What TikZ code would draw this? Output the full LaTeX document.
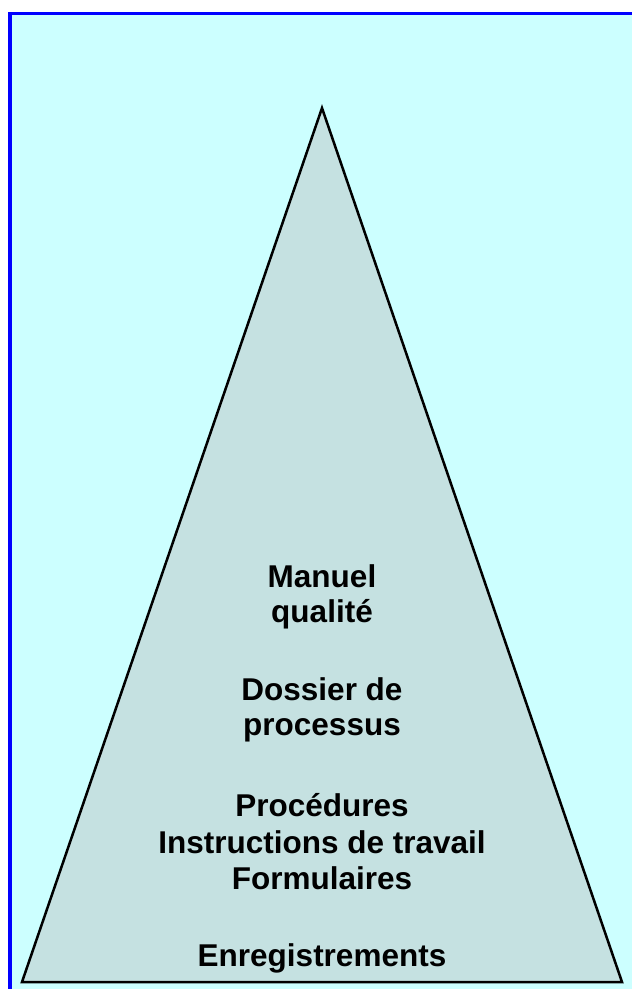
\documentclass[tikz,border=0pt]{standalone}
\usepackage{fontspec}
\setmainfont{Liberation Sans}
\definecolor{bgcyan}{RGB}{204,255,255}
\definecolor{tricol}{RGB}{197,225,225}
\definecolor{framblue}{RGB}{0,0,255}
\tikzset{
  lbl/.style={anchor=base, inner sep=0pt, font=\fontsize{31.5pt}{36pt}\selectfont\bfseries, text=black},
  pyr/.style={draw=black, line width=2.5pt, fill=tricol, line join=miter}
}
\begin{document}
\begin{tikzpicture}[x=1pt,y=-1pt]
\useasboundingbox (0,0) rectangle (632,989);
\begin{scope}
\clip (0,0) rectangle (632,989);
\fill[white] (0,0) rectangle (632,989);
\draw[framblue, line width=3.5pt, fill=bgcyan] (9.75,13.5) rectangle (660,1020);
\end{scope}
\coordinate (apex) at (322,108);
\coordinate (bl) at (22,982);
\coordinate (br) at (622,982);
\draw[pyr] (apex) -- (bl) -- (br) -- cycle;
\node[lbl] (l1) at (322,587) {Manuel};
\node[lbl] (l2) at (322,622) {qualité};
\node[lbl] (l3) at (322,700) {Dossier de};
\node[lbl] (l4) at (322,735) {processus};
\node[lbl] (l5) at (322,816) {Procédures};
\node[lbl] (l6) at (322,853) {Instructions de travail};
\node[lbl] (l7) at (322,889) {Formulaires};
\node[lbl] (l8) at (322,966) {Enregistrements};
\end{tikzpicture}
\end{document}
